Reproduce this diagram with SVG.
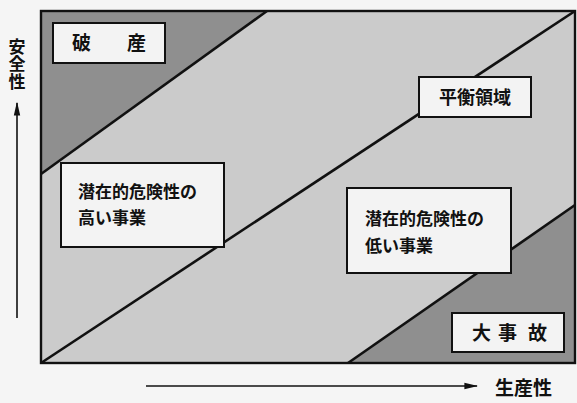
<svg xmlns="http://www.w3.org/2000/svg" width="577" height="403" viewBox="0 0 577 403">
<defs>
<style>
.dark{fill:#8f8f8f}
.light{fill:#cbcbcb}
.ln{stroke:#111;stroke-width:2.6;fill:none}
.box{fill:#f3f3f3;stroke:#111;stroke-width:2}
.t{font-family:"Noto Sans CJK JP","Noto Sans CJK SC",sans-serif;fill:#111}
.b{font-weight:bold}
.ax{stroke:#111;stroke-width:1.6;marker-end:url(#ah)}
</style>
<marker id="ah" viewBox="0 0 10 10" refX="9" refY="5" markerWidth="14" markerHeight="8" preserveAspectRatio="none" markerUnits="userSpaceOnUse" orient="auto">
<path d="M0,1 L10,5 L0,9 z" fill="#111"/>
</marker>
</defs>
<rect width="577" height="403" fill="#f5f5f5"/>
<g id="regions">
<rect class="light" x="41" y="11" width="534" height="352"/>
<polygon class="dark" points="41,11 267,11 41,174"/>
<polygon class="dark" points="348,363 575,205 575,363"/>
</g>
<g id="connectors">
<line class="ln" x1="41" y1="174" x2="267" y2="11"/>
<line class="ln" x1="41" y1="363" x2="575" y2="11"/>
<line class="ln" x1="348" y1="363" x2="575" y2="205"/>
<rect x="41" y="11" width="534" height="352" fill="none" stroke="#111" stroke-width="2.4"/>
<line class="ax" x1="17" y1="318" x2="17" y2="103"/>
<line class="ax" x1="146" y1="386" x2="477" y2="386"/>
</g>
<g id="node-hasan">
<rect class="box" x="53" y="23" width="112" height="40"/>
<text class="t b" x="72" y="50" font-size="19">破</text>
<text class="t b" x="127" y="50" font-size="19">産</text>
</g>
<g id="node-heiko">
<rect class="box" x="419" y="77" width="112" height="40"/>
<text class="t b" x="475" y="104" font-size="18" text-anchor="middle">平衡領域</text>
</g>
<g id="node-high">
<rect class="box" x="61" y="163" width="163" height="84"/>
<text class="t b" x="78" y="198" font-size="17">潜在的危険性の</text>
<text class="t b" x="78" y="224" font-size="17">高い事業</text>
</g>
<g id="node-low">
<rect class="box" x="347" y="188" width="164" height="85"/>
<text class="t b" x="365" y="225" font-size="17">潜在的危険性の</text>
<text class="t b" x="365" y="252" font-size="17">低い事業</text>
</g>
<g id="node-daijiko">
<rect class="box" x="452" y="313" width="112" height="39"/>
<text class="t b" x="472" y="340" font-size="19">大</text>
<text class="t b" x="498" y="340" font-size="19">事</text>
<text class="t b" x="528" y="340" font-size="19">故</text>
</g>
<g id="axis-labels">
<text class="t b" x="17" y="38" font-size="17" style="writing-mode:vertical-rl" letter-spacing="0.5">安全性</text>
<text class="t b" x="495" y="395" font-size="19">生産性</text>
</g>
</svg>
